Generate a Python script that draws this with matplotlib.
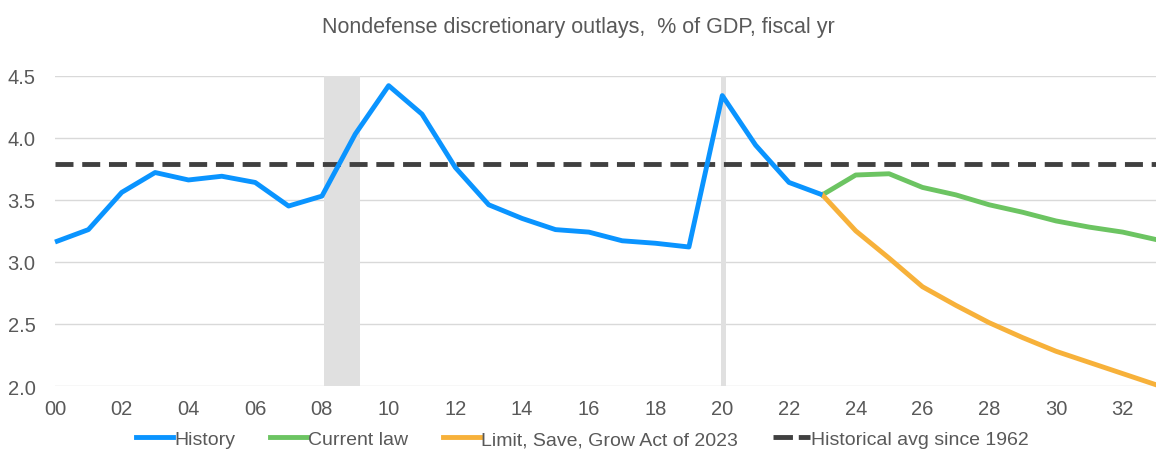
import numpy as np
import matplotlib
matplotlib.use("Agg")
import matplotlib.pyplot as plt
from matplotlib.lines import Line2D

plt.rcParams['font.family'] = ['Liberation Sans', 'DejaVu Sans']

# fiscal years, % of GDP
hist_years = list(range(2000, 2024))
history = [3.16, 3.26, 3.56, 3.72, 3.66, 3.69, 3.64, 3.45, 3.53, 4.03,
           4.42, 4.19, 3.76, 3.46, 3.35, 3.26, 3.24, 3.17, 3.15, 3.12,
           4.34, 3.94, 3.64, 3.54]
proj_years = list(range(2023, 2034))
current_law = [3.54, 3.70, 3.71, 3.60, 3.54, 3.46, 3.40, 3.33, 3.28, 3.24, 3.18]
lsg_act = [3.54, 3.25, 3.03, 2.80, 2.65, 2.51, 2.39, 2.28, 2.19, 2.10, 2.01]
hist_avg = 3.79
recessions = [(2008.05, 2009.15), (2019.97, 2020.1)]
xticks = list(range(2000, 2034, 2))
xlabels = ['%02d' % (y % 100) for y in xticks]

txt = '#595959'
fig = plt.figure(figsize=(11.56, 4.52), dpi=100)
ax = fig.add_axes([0.0476, 0.1438, 0.9524, 0.6865])

for a, b in recessions:
    ax.axvspan(a, b, color='#e0e0e0', lw=0, zorder=1)

ax.plot(hist_years, history, color='#0a94ff', lw=3.5, solid_capstyle='butt', zorder=4, clip_on=False)
ax.plot(proj_years, current_law, color='#6cc462', lw=3.5, zorder=3, clip_on=False)
ax.plot(proj_years, lsg_act, color='#f7b13a', lw=3.5, zorder=3, clip_on=False)
ax.axhline(hist_avg, color='#404040', lw=3.5, dashes=(3.7, 1.8), zorder=2)

ax.set_xlim(2000, 2033)
ax.set_ylim(2.0, 4.5)
ax.set_yticks([2.0, 2.5, 3.0, 3.5, 4.0, 4.5])
ax.set_yticklabels(['%.1f' % v for v in ax.get_yticks()])
ax.set_xticks(xticks)
ax.set_xticklabels(xlabels)
ax.grid(axis='y', color='#d9d9d9', lw=1, zorder=0)
ax.set_axisbelow(True)
for s in ax.spines.values():
    s.set_visible(False)
ax.tick_params(length=0, colors=txt, labelsize=14.5)
ax.tick_params(axis='y', pad=14)
ax.tick_params(axis='x', pad=9)

fig.text(0.5, 0.94, 'Nondefense discretionary outlays,  % of GDP, fiscal yr',
         ha='center', va='center', fontsize=15.5, color=txt)

handles = [Line2D([], [], color='#0a94ff', lw=3.5),
           Line2D([], [], color='#6cc462', lw=3.5),
           Line2D([], [], color='#f7b13a', lw=3.5),
           Line2D([], [], color='#404040', lw=3.5, dashes=(4, 1.2))]
labels = ['History', 'Current law', 'Limit, Save, Grow Act of 2023', 'Historical avg since 1962']
fig.legend(handles, labels, loc='center', bbox_to_anchor=(0.504, 0.026), ncol=4,
           frameon=False, fontsize=14, handlelength=1.9, handletextpad=0.05,
           columnspacing=1.8, labelcolor=txt)

fig.savefig('out.png', dpi=100, facecolor='white')
